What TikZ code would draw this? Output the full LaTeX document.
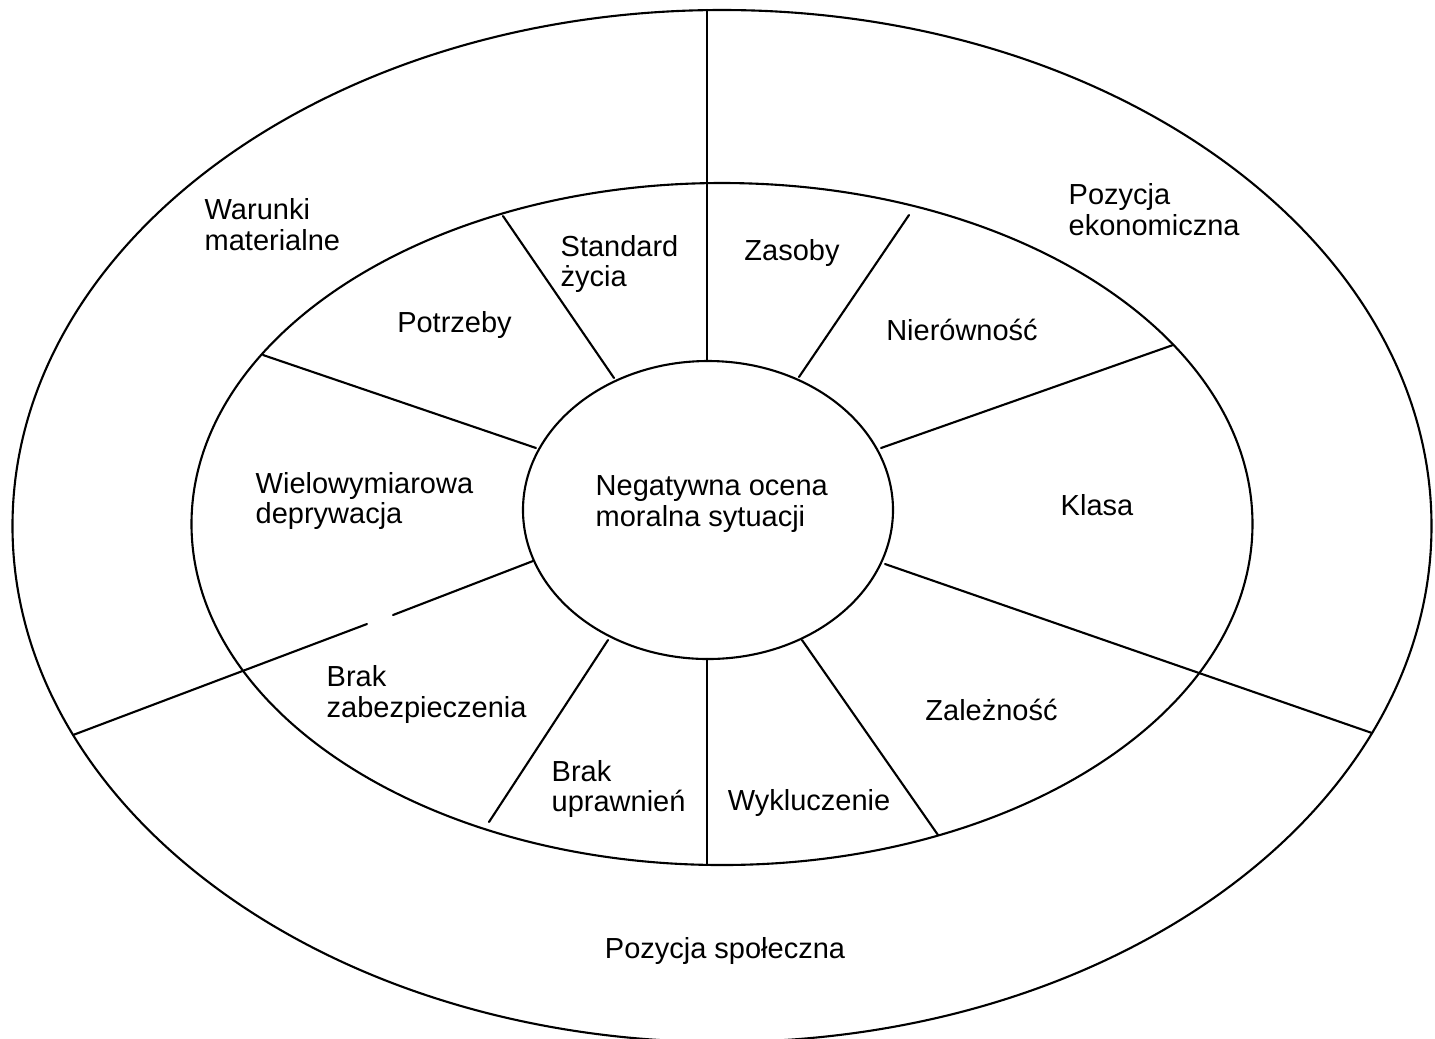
\documentclass[tikz,border=0pt]{standalone}
\usepackage{fontspec}
\setmainfont{Liberation Sans}
\usepackage{tikz}
\usetikzlibrary{positioning, calc}

\begin{document}
\begin{tikzpicture}[line cap=round, line join=round]
    % Styles
    \tikzset{
        ring/.style={line width=0.6pt, black},
        divider/.style={line width=0.6pt, black},
        field/.style={inner sep=0pt, font=\fontsize{8.25}{8.8}\selectfont, align=left}
    }

    % Frame (origin at center of the middle ring)
    \useasboundingbox (-7.22,-5.14) rectangle (7.13,5.24);

    % --- Rings ---
    \coordinate (O_center) at (0.0, -0.02);
    \coordinate (M_center) at (0.0, 0.0);
    \coordinate (I_center) at (-0.14, 0.14);

    \draw[ring] (O_center) ellipse [x radius=7.095, y radius=5.16];
    \draw[ring] (M_center) ellipse [x radius=5.305, y radius=3.41];
    \draw[ring] (I_center) ellipse [x radius=1.85, y radius=1.49];

    % --- Divider end points ---
    \coordinate (top_out) at (-0.15, 5.14);
    \coordinate (top_in) at (-0.15, 1.63);
    \coordinate (std_out) at (-2.19, 3.08);
    \coordinate (std_in) at (-1.08, 1.46);
    \coordinate (zas_out) at (1.87, 3.09);
    \coordinate (zas_in) at (0.77, 1.47);
    \coordinate (pot_out) at (-4.59, 1.69);
    \coordinate (pot_in) at (-1.86, 0.76);
    \coordinate (nie_out) at (4.51, 1.79);
    \coordinate (nie_in) at (1.59, 0.76);
    \coordinate (ll_out) at (-6.49, -2.11);
    \coordinate (ll_gapA) at (-3.55, -1.00);
    \coordinate (ll_gapB) at (-3.29, -0.91);
    \coordinate (ll_in) at (-1.89, -0.37);
    \coordinate (lr_in) at (1.63, -0.40);
    \coordinate (lr_out) at (6.50, -2.09);
    \coordinate (bz_in) at (-1.14, -1.16);
    \coordinate (bz_out) at (-2.33, -2.98);
    \coordinate (bot_in) at (-0.15, -1.35);
    \coordinate (bot_out) at (-0.15, -3.41);
    \coordinate (wyk_in) at (0.80, -1.16);
    \coordinate (wyk_out) at (2.16, -3.11);

    % --- Dividers ---
    \draw[divider] (top_out) -- (top_in);
    \draw[divider] (std_out) -- (std_in);
    \draw[divider] (zas_out) -- (zas_in);
    \draw[divider] (pot_out) -- (pot_in);
    \draw[divider] (nie_out) -- (nie_in);
    \draw[divider] (ll_out) -- (ll_gapA);
    \draw[divider] (ll_gapB) -- (ll_in);
    \draw[divider] (lr_in) -- (lr_out);
    \draw[divider] (bz_in) -- (bz_out);
    \draw[divider] (bot_in) -- (bot_out);
    \draw[divider] (wyk_in) -- (wyk_out);

    % --- Outer ring labels ---
    \node[field, anchor=west] (warunki) at (-5.18, 2.99) {Warunki\\materialne};
    \node[field, anchor=west] (ekonom) at (3.46, 3.14) {Pozycja\\ekonomiczna};
    \node[field] (spoleczna) at (0.03, -4.27) {Pozycja społeczna};

    % --- Middle ring labels ---
    \node[field, anchor=west] (standard) at (-1.62, 2.60) {Standard\\życia};
    \node[field] (zasoby) at (0.70, 2.71) {Zasoby};
    \node[field] (potrzeby) at (-2.675, 1.99) {Potrzeby};
    \node[field] (nierownosc) at (2.40, 1.94) {Nierówność};
    \node[field, anchor=west] (deprywacja) at (-4.67, 0.23) {Wielowymiarowa\\deprywacja};
    \node[field] (klasa) at (3.75, 0.19) {Klasa};
    \node[field, anchor=west] (zabezp) at (-3.96, -1.705) {Brak\\zabezpieczenia};
    \node[field] (zaleznosc) at (2.695, -1.86) {Zależność};
    \node[field, anchor=west] (uprawn) at (-1.71, -2.65) {Brak\\uprawnień};
    \node[field] (wykluczenie) at (0.87, -2.79) {Wykluczenie};

    % --- Center ---
    \node[field, anchor=west] (ocena) at (-1.27, 0.20) {Negatywna ocena\\moralna sytuacji};

\end{tikzpicture}
\end{document}
